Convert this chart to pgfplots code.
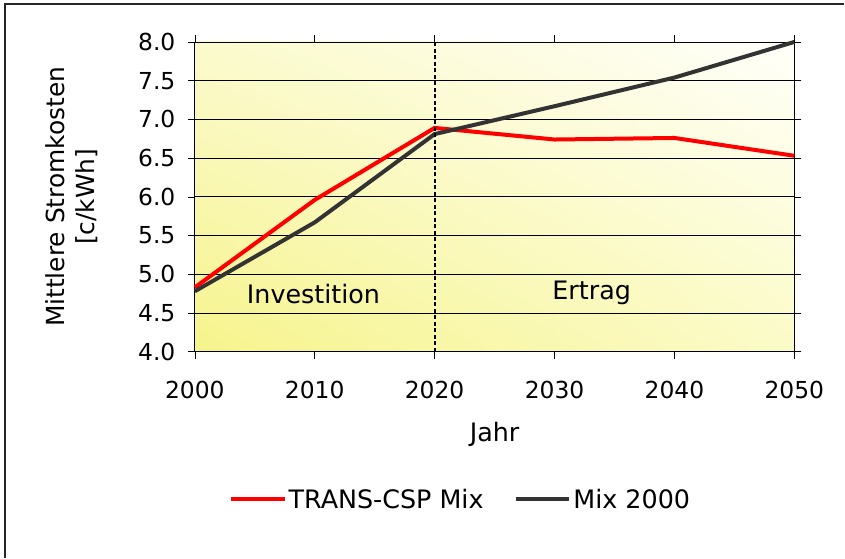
\documentclass[border=0pt]{standalone}
\usepackage{fontspec}
\setmainfont{DejaVu Sans}
\usepackage{pgfplots}
\pgfplotsset{compat=1.18}
\usetikzlibrary{shadings}
\definecolor{darkline}{RGB}{51,51,51}
\definecolor{ll}{RGB}{246,244,140}
\definecolor{ul}{RGB}{251,250,205}
\definecolor{lr}{RGB}{251,251,200}
\definecolor{ur}{RGB}{255,255,250}
\begin{document}
\begin{tikzpicture}[x=1bp,y=1bp]
\path (0,0) rectangle (845,558);
\draw[line width=1.5bp, black!85] (5,0) -- (5,554) -- (845,554);
\begin{axis}[
  at={(195bp,206bp)}, anchor=south west,
  scale only axis, width=600bp, height=310bp,
  xmin=2000, xmax=2050, ymin=4, ymax=8,
  xtick={2000,2010,...,2050},
  ytick={4,4.5,...,8},
  tick align=outside,
  major tick length=7bp,
  tick style={black, line width=0.6bp},
  ymajorgrids,
  grid style={black, line width=0.8bp},
  axis line style={black, line width=0.8bp},
  font=\fontsize{23.5}{28}\selectfont,
  /pgf/number format/assume math mode=true,
  xticklabel style={/pgf/number format/1000 sep={}, yshift=-19bp},
  yticklabel style={/pgf/number format/fixed, /pgf/number format/fixed zerofill, /pgf/number format/precision=1, xshift=-9bp},
  xlabel={Jahr},
  xlabel style={font=\fontsize{25.5}{30}\selectfont, yshift=-17bp},
  ylabel={Mittlere Stromkosten\\{[}c/kWh{]}},
  ylabel style={align=center, font=\fontsize{25}{30}\selectfont, yshift=34bp},
  axis background/.style={shading=bilinear interpolation, lower left=ll, upper left=ul, lower right=lr, upper right=ur},
  legend columns=2,
  legend style={at={(0.443,-0.477)}, anchor=center, draw=none, fill=none, font=\fontsize{25.5}{30}\selectfont,
    /tikz/every even column/.append style={column sep=28bp}},
  legend image code/.code={\draw[#1] (0bp,0bp) -- (54bp,0bp);},
  clip=false,
]
\addplot[red, line width=4bp] coordinates {
 (2000,4.83) (2010,5.96) (2020,6.89) (2030,6.74) (2040,6.76) (2050,6.53)
};
\addlegendentry{TRANS-CSP Mix}
\addplot[darkline, line width=4bp] coordinates {
 (2000,4.78) (2010,5.67) (2020,6.81) (2030,7.17) (2040,7.54) (2050,8.0)
};
\addlegendentry{Mix 2000}
\addplot[black, line width=2bp, dash pattern=on 4bp off 2.5bp, forget plot] coordinates {(2020,4) (2020,8)};
\node[font=\fontsize{25.5}{30}\selectfont] at (axis cs:2009.9,4.74) {Investition};
\node[font=\fontsize{25.5}{30}\selectfont] at (axis cs:2033.1,4.76) {Ertrag};
\end{axis}
\end{tikzpicture}
\end{document}
